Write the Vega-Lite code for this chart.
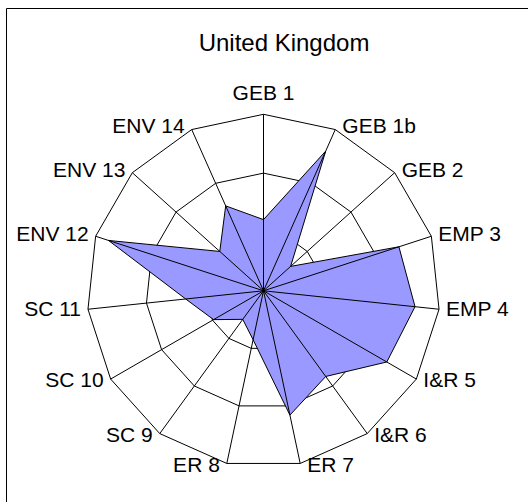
{
  "$schema": "https://vega.github.io/schema/vega-lite/v6.json",
  "width": 522,
  "height": 494,
  "autosize": {"type": "none"},
  "padding": {"left": 6, "top": 8, "right": 0, "bottom": 0},
  "background": "white",
  "config": {"view": {"stroke": "black", "strokeWidth": 1}, "font": "Liberation Sans"},
  "title": {
    "text": "United Kingdom",
    "anchor": "middle",
    "frame": "group",
    "orient": "top",
    "offset": -67.4,
    "baseline": "alphabetic",
    "dx": 17,
    "fontSize": 24,
    "font": "Liberation Sans",
    "fontWeight": "normal",
    "color": "black"
  },
  "data": {
    "values": [
      {"k": 0, "label": "GEB 1", "value": 1.21},
      {"k": 1, "label": "GEB 1b", "value": 2.6},
      {"k": 2, "label": "GEB 2", "value": 0.62},
      {"k": 3, "label": "EMP 3", "value": 2.42},
      {"k": 4, "label": "EMP 4", "value": 2.59},
      {"k": 5, "label": "I&R 5", "value": 2.42},
      {"k": 6, "label": "I&R 6", "value": 1.8},
      {"k": 7, "label": "ER 7", "value": 2.16},
      {"k": 8, "label": "ER 8", "value": 0.85},
      {"k": 9, "label": "SC 9", "value": 0.6},
      {"k": 10, "label": "SC 10", "value": 0.98},
      {"k": 11, "label": "SC 11", "value": 1.33},
      {"k": 12, "label": "ENV 12", "value": 2.77},
      {"k": 13, "label": "ENV 13", "value": 1.0},
      {"k": 14, "label": "ENV 14", "value": 1.58}
    ]
  },
  "transform": [
    {"calculate": "datum.k * 2 * PI / 15", "as": "ang"},
    {"calculate": "sin(datum.ang)", "as": "sx"},
    {"calculate": "cos(datum.ang)", "as": "cy"},
    {"calculate": "3 * datum.sx", "as": "ox"},
    {"calculate": "3 * datum.cy", "as": "oy"},
    {"calculate": "3.05 * datum.cy", "as": "ly"},
    {"calculate": "0 * datum.sx", "as": "z"}
  ],
  "layer": [
    {
      "transform": [
        {"calculate": "datum.sx", "as": "gx"},
        {"calculate": "datum.cy", "as": "gy"}
      ],
      "mark": {"type": "line", "interpolate": "linear-closed", "stroke": "black", "strokeWidth": 1},
      "encoding": {
        "x": {"field": "gx", "type": "quantitative", "scale": {"domain": [-4.3768, 4.4957], "nice": false, "zero": false}, "axis": null},
        "y": {"field": "gy", "type": "quantitative", "scale": {"domain": [-3.5898, 4.8068], "nice": false, "zero": false}, "axis": null},
        "order": {"field": "k", "type": "quantitative"}
      }
    },
    {
      "transform": [
        {"calculate": "2 * datum.sx", "as": "gx"},
        {"calculate": "2 * datum.cy", "as": "gy"}
      ],
      "mark": {"type": "line", "interpolate": "linear-closed", "stroke": "black", "strokeWidth": 1},
      "encoding": {
        "x": {"field": "gx", "type": "quantitative", "axis": null},
        "y": {"field": "gy", "type": "quantitative", "axis": null},
        "order": {"field": "k", "type": "quantitative"}
      }
    },
    {
      "mark": {"type": "line", "interpolate": "linear-closed", "stroke": "black", "strokeWidth": 1},
      "encoding": {
        "x": {"field": "ox", "type": "quantitative", "axis": null},
        "y": {"field": "oy", "type": "quantitative", "axis": null},
        "order": {"field": "k", "type": "quantitative"}
      }
    },
    {
      "transform": [
        {"calculate": "datum.value * datum.sx", "as": "px"},
        {"calculate": "datum.value * datum.cy", "as": "py"}
      ],
      "mark": {"type": "line", "interpolate": "linear-closed", "fill": "#9999FF", "stroke": "black", "strokeWidth": 1},
      "encoding": {
        "x": {"field": "px", "type": "quantitative", "axis": null},
        "y": {"field": "py", "type": "quantitative", "axis": null},
        "order": {"field": "k", "type": "quantitative"}
      }
    },
    {
      "mark": {"type": "rule", "stroke": "black", "strokeWidth": 1},
      "encoding": {
        "x": {"field": "z", "type": "quantitative", "axis": null},
        "y": {"field": "z", "type": "quantitative", "axis": null},
        "x2": {"field": "ox"},
        "y2": {"field": "oy"}
      }
    },
    {
      "transform": [{"filter": "datum.k == 0"}],
      "mark": {"type": "text", "align": "center", "baseline": "alphabetic", "dy": -14, "fontSize": 21, "font": "Liberation Sans", "color": "black"},
      "encoding": {
        "x": {"field": "ox", "type": "quantitative", "axis": null},
        "y": {"field": "oy", "type": "quantitative", "axis": null},
        "text": {"field": "label", "type": "nominal"}
      }
    },
    {
      "transform": [{"filter": "datum.k >= 1 && datum.k <= 7"}],
      "mark": {"type": "text", "align": "left", "baseline": "middle", "dx": 7, "fontSize": 21, "font": "Liberation Sans", "color": "black"},
      "encoding": {
        "x": {"field": "ox", "type": "quantitative", "axis": null},
        "y": {"field": "ly", "type": "quantitative", "axis": null},
        "text": {"field": "label", "type": "nominal"}
      }
    },
    {
      "transform": [{"filter": "datum.k >= 8"}],
      "mark": {"type": "text", "align": "right", "baseline": "middle", "dx": -7, "fontSize": 21, "font": "Liberation Sans", "color": "black"},
      "encoding": {
        "x": {"field": "ox", "type": "quantitative", "axis": null},
        "y": {"field": "ly", "type": "quantitative", "axis": null},
        "text": {"field": "label", "type": "nominal"}
      }
    }
  ]
}
